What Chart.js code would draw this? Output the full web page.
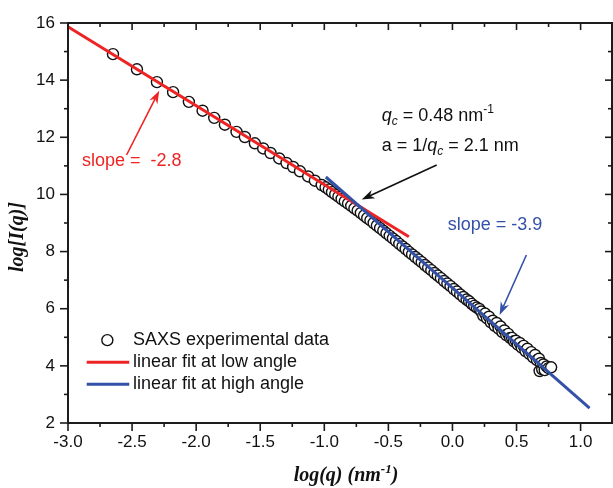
<!DOCTYPE html>
<html><head><meta charset="utf-8">
<script src="https://cdn.jsdelivr.net/npm/chart.js@4/dist/chart.umd.min.js"></script>
<style>html,body{margin:0;padding:0;background:#fff}#wrap{width:613px;height:488px}</style>
</head><body><div id="wrap"><canvas id="c" width="613" height="488"></canvas></div>
<script>
// ---- data ----
const logQ = [
  -2.649,-2.462,-2.306,-2.180,-2.057,-1.950,-1.859,-1.776,-1.685,-1.620,
  -1.542,-1.477,-1.420,-1.352,-1.295,-1.243,-1.190,-1.126,-1.074,-1.020,
  -0.990,-0.965,-0.940,-0.915,-0.890,-0.865,-0.840,-0.815,-0.790,-0.765,
  -0.740,-0.715,-0.690,-0.665,-0.640,-0.615,-0.590,-0.565,-0.540,-0.515,
  -0.490,-0.465,-0.440,-0.415,-0.390,-0.365,-0.340,-0.315,-0.290,-0.265,
  -0.240,-0.215,-0.190,-0.165,-0.140,-0.115,-0.090,-0.065,-0.040,-0.015,
  0.010,0.035,0.060,0.085,0.110,0.130,0.150,0.170,0.190,0.210,
  0.225,0.240,0.255,0.270,0.285,0.300,0.315,0.330,0.345,0.360,
  0.375,0.390,0.405,0.420,0.435,0.450,0.465,0.480,0.495,0.510,
  0.525,0.540,0.555,0.570,0.585,0.600,0.615,0.630,0.645,0.660,
  0.675,0.680,0.690,0.700,0.710,0.720,0.735,0.750,0.770
];
const logI = [
  14.91,14.38,13.93,13.58,13.24,12.93,12.68,12.44,12.19,12.01,
  11.79,11.61,11.45,11.26,11.10,10.96,10.81,10.63,10.48,10.33,
  10.25,10.17,10.08,10.00,9.92,9.84,9.76,9.68,9.60,9.51,
  9.43,9.35,9.26,9.17,9.09,9.00,8.91,8.82,8.73,8.64,
  8.55,8.46,8.37,8.27,8.18,8.09,7.99,7.90,7.81,7.72,
  7.63,7.53,7.44,7.35,7.25,7.16,7.07,6.97,6.88,6.79,
  6.69,6.60,6.50,6.41,6.32,6.26,6.17,6.10,6.04,5.99,
  5.90,5.76,5.83,5.66,5.72,5.52,5.58,5.40,5.50,5.30,
  5.38,5.18,5.24,5.08,5.12,4.98,4.98,4.86,4.88,4.74,
  4.80,4.64,4.70,4.52,4.60,4.42,4.48,4.30,4.38,4.20,
  4.25,3.82,4.10,3.88,4.05,3.85,3.98,3.92,3.95
];
const lowFitX = [-3.0, -0.34];
const lowFitY = [15.87, 8.52];
const highFitX = [-0.988, 1.07];
const highFitY = [10.61, 2.52];
const seriesLabels = ['SAXS experimental data', 'linear fit at low angle', 'linear fit at high angle'];
const xTickValues = [-3, -2.5, -2, -1.5, -1, -0.5, 0, 0.5, 1];
const xTickLabels = ['-3.0', '-2.5', '-2.0', '-1.5', '-1.0', '-0.5', '0.0', '0.5', '1.0'];
const xMinorValues = [-2.75, -2.25, -1.75, -1.25, -0.75, -0.25, 0.25, 0.75];
const yTickValues = [2, 4, 6, 8, 10, 12, 14, 16];
const yTickLabels = ['2', '4', '6', '8', '10', '12', '14', '16'];
const yMinorValues = [3, 5, 7, 9, 11, 13, 15];

// ---- styling / layout ----
const RED = '#ee2424';
const BLUE = '#3451a8';
const SANS = '"Liberation Sans", Arial, sans-serif';
const SERIF = '"Liberation Serif", "Times New Roman", serif';

const pts = (xs, ys) => xs.map((v, i) => ({x: v, y: ys[i]}));

function drawRuns(ctx, x, y, runs, align) {
  let total = 0;
  runs.forEach(r => { ctx.font = r.f; total += ctx.measureText(r.t).width; });
  let cx = align === 'center' ? x - total / 2 : x;
  ctx.textAlign = 'left';
  ctx.textBaseline = 'alphabetic';
  runs.forEach(r => {
    ctx.font = r.f;
    ctx.fillText(r.t, cx, y + (r.dy || 0));
    cx += ctx.measureText(r.t).width;
  });
}
function arrow(ctx, x1, y1, x2, y2, color) {
  const ang = Math.atan2(y2 - y1, x2 - x1);
  const hl = 13, hw = 4.5;
  const bx = x2 - hl * Math.cos(ang), by = y2 - hl * Math.sin(ang);
  ctx.strokeStyle = color; ctx.fillStyle = color; ctx.lineWidth = 1.6;
  ctx.beginPath(); ctx.moveTo(x1, y1); ctx.lineTo(bx + 4 * Math.cos(ang), by + 4 * Math.sin(ang)); ctx.stroke();
  ctx.beginPath();
  ctx.moveTo(x2, y2);
  ctx.lineTo(bx + hw * Math.sin(ang), by - hw * Math.cos(ang));
  ctx.lineTo(bx + 4 * Math.cos(ang), by + 4 * Math.sin(ang));
  ctx.lineTo(bx - hw * Math.sin(ang), by + hw * Math.cos(ang));
  ctx.closePath(); ctx.fill();
}

// annotation anchors, in data units
const notes = {
  lowText: {x: -2.891, y: 11.17},
  lowArrow: {from: [-2.543, 11.38], to: [-2.288, 13.63]},
  qcText1: {x: -0.552, y: 12.57},
  qcText2: {x: -0.552, y: 11.52},
  qcArrow: {from: [-0.123, 11.03], to: [-0.708, 9.82]},
  highText: {x: -0.037, y: 8.93},
  highArrow: {from: [0.577, 7.88], to: [0.368, 5.78]},
  legend: {symX: -2.693, lineX0: -2.854, lineX1: -2.522, textX: -2.493, rows: [4.90, 4.13, 3.36]}
};

const decor = {
  id: 'decor',
  afterDraw(chart) {
    const {ctx, chartArea: a, scales: {x, y}} = chart;
    const X = v => x.getPixelForValue(v), Y = v => y.getPixelForValue(v);
    ctx.save();
    // frame
    ctx.strokeStyle = '#1c1c1c';
    ctx.lineWidth = 2;
    ctx.strokeRect(a.left, a.top, a.right - a.left, a.bottom - a.top);
    ctx.lineWidth = 1.6;
    const seg = (x1, y1, x2, y2) => { ctx.beginPath(); ctx.moveTo(x1, y1); ctx.lineTo(x2, y2); ctx.stroke(); };
    xTickValues.forEach(v => { const p = X(v); seg(p, a.bottom, p, a.bottom + 8); seg(p, a.top, p, a.top + 7); });
    xMinorValues.forEach(v => { const p = X(v); seg(p, a.bottom, p, a.bottom + 4); seg(p, a.top, p, a.top + 4); });
    yTickValues.forEach(v => { const p = Y(v); seg(a.left - 8, p, a.left, p); seg(a.right, p, a.right - 7, p); });
    yMinorValues.forEach(v => { const p = Y(v); seg(a.left - 4, p, a.left, p); seg(a.right, p, a.right - 4, p); });

    // axis titles
    ctx.fillStyle = '#111';
    drawRuns(ctx, 346, 481, [
      {t: 'log(q) (nm', f: 'bold italic 20px ' + SERIF},
      {t: '-1', f: 'bold italic 13px ' + SERIF, dy: -8},
      {t: ')', f: 'bold italic 20px ' + SERIF}
    ], 'center');
    ctx.save();
    ctx.translate(18, 237);
    ctx.rotate(-Math.PI / 2);
    ctx.font = 'bold italic 20px ' + SERIF;
    ctx.textAlign = 'center'; ctx.textBaseline = 'middle';
    ctx.fillText('log[I(q)]', 0, 0);
    ctx.restore();

    // red annotation
    ctx.fillStyle = RED;
    ctx.font = '18px ' + SANS; ctx.textAlign = 'left'; ctx.textBaseline = 'middle';
    ctx.fillText('slope =  -2.8', X(notes.lowText.x), Y(notes.lowText.y));
    arrow(ctx, X(notes.lowArrow.from[0]), Y(notes.lowArrow.from[1]), X(notes.lowArrow.to[0]), Y(notes.lowArrow.to[1]), RED);

    // black annotation
    ctx.fillStyle = '#111';
    drawRuns(ctx, X(notes.qcText1.x), Y(notes.qcText1.y), [
      {t: 'q', f: 'italic 18px ' + SANS},
      {t: 'c', f: 'italic 12px ' + SANS, dy: 4},
      {t: ' = 0.48 nm', f: '18px ' + SANS},
      {t: '-1', f: '12px ' + SANS, dy: -8}
    ]);
    drawRuns(ctx, X(notes.qcText2.x), Y(notes.qcText2.y), [
      {t: 'a = 1/', f: '18px ' + SANS},
      {t: 'q', f: 'italic 18px ' + SANS},
      {t: 'c', f: 'italic 12px ' + SANS, dy: 4},
      {t: ' = 2.1 nm', f: '18px ' + SANS}
    ]);
    arrow(ctx, X(notes.qcArrow.from[0]), Y(notes.qcArrow.from[1]), X(notes.qcArrow.to[0]), Y(notes.qcArrow.to[1]), '#111');

    // blue annotation
    ctx.fillStyle = BLUE;
    ctx.font = '18px ' + SANS; ctx.textAlign = 'left'; ctx.textBaseline = 'middle';
    ctx.fillText('slope = -3.9', X(notes.highText.x), Y(notes.highText.y));
    arrow(ctx, X(notes.highArrow.from[0]), Y(notes.highArrow.from[1]), X(notes.highArrow.to[0]), Y(notes.highArrow.to[1]), BLUE);

    // legend
    const L = notes.legend;
    ctx.strokeStyle = '#111'; ctx.lineWidth = 1.4;
    ctx.beginPath(); ctx.arc(X(L.symX), Y(L.rows[0]), 5.5, 0, Math.PI * 2); ctx.stroke();
    ctx.lineWidth = 3;
    ctx.strokeStyle = RED; seg(X(L.lineX0), Y(L.rows[1]), X(L.lineX1), Y(L.rows[1]));
    ctx.strokeStyle = BLUE; seg(X(L.lineX0), Y(L.rows[2]), X(L.lineX1), Y(L.rows[2]));
    ctx.fillStyle = '#111'; ctx.font = '18px ' + SANS; ctx.textAlign = 'left'; ctx.textBaseline = 'middle';
    seriesLabels.forEach((s, i) => ctx.fillText(s, X(L.textX), Y(L.rows[i])));
    ctx.restore();
  }
};

new Chart(document.getElementById('c'), {
  type: 'scatter',
  data: {
    datasets: [
      {label: seriesLabels[2], data: pts(highFitX, highFitY), showLine: true, borderColor: BLUE, borderWidth: 3, pointRadius: 0, order: 1},
      {label: seriesLabels[1], data: pts(lowFitX, lowFitY), showLine: true, borderColor: RED, borderWidth: 3, pointRadius: 0, order: 2},
      {label: seriesLabels[0], data: pts(logQ, logI), showLine: false, pointRadius: 5.5, pointBorderWidth: 1.4, pointBorderColor: '#111', pointBackgroundColor: '#fff', order: 3}
    ]
  },
  options: {
    responsive: false,
    animation: false,
    devicePixelRatio: 1,
    layout: {autoPadding: false, padding: {top: 23, right: 1, left: 0, bottom: 0}},
    plugins: {legend: {display: false}, tooltip: {enabled: false}},
    scales: {
      x: {
        type: 'linear', min: -3, max: 1.245,
        grid: {display: false, drawTicks: false},
        border: {display: false},
        afterBuildTicks: s => { s.ticks = xTickValues.map(v => ({value: v})); },
        afterFit: s => { s.height = 65; s.paddingLeft = 0; s.paddingRight = 0; },
        ticks: {
          padding: 9, color: '#111', font: {family: SANS, size: 17},
          callback: v => xTickLabels[xTickValues.indexOf(v)]
        }
      },
      y: {
        type: 'linear', min: 2, max: 16,
        grid: {display: false, drawTicks: false},
        border: {display: false},
        afterBuildTicks: s => { s.ticks = yTickValues.map(v => ({value: v})); },
        afterFit: s => { s.width = 68; s.paddingTop = 0; s.paddingBottom = 0; },
        ticks: {
          padding: 13, color: '#111', font: {family: SANS, size: 17},
          callback: v => yTickLabels[yTickValues.indexOf(v)]
        }
      }
    }
  },
  plugins: [decor]
});
</script></body></html>
